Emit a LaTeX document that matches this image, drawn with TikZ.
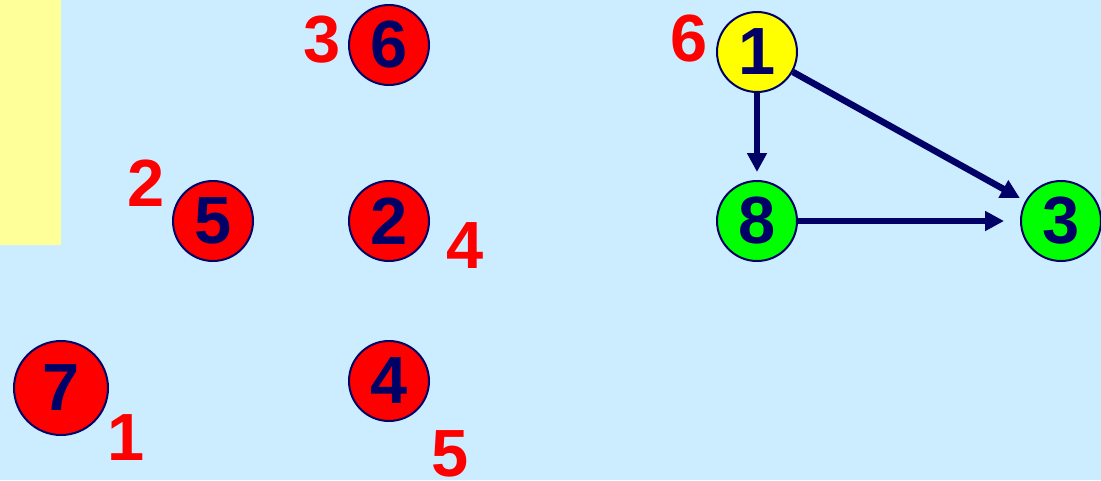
\documentclass[tikz,border=0pt]{standalone}
\usepackage{fontspec}
\setmainfont{Liberation Sans}
\definecolor{bgblue}{RGB}{204,236,255}
\definecolor{paleyel}{RGB}{255,255,153}
\definecolor{navy}{RGB}{0,0,102}
\definecolor{ptred}{RGB}{255,0,0}
\definecolor{ptgreen}{RGB}{0,255,0}
\definecolor{ptyellow}{RGB}{255,255,0}
\usetikzlibrary{arrows.meta,positioning}

\begin{document}
\begin{tikzpicture}[x=0.02cm, y=-0.02cm,
  vtx/.style={draw=navy, line width=0.04cm, circle, minimum size=1.6cm, inner sep=0pt, font=\fontsize{38}{40}\selectfont\bfseries, text=navy},
  num/.style={font=\fontsize{38}{40}\selectfont\bfseries, text=ptred, inner sep=0pt},
  edge/.style={navy, line width=0.13cm, -{Triangle[length=0.38cm,width=0.38cm]}}
]
  %% Background and side panel
  \fill[bgblue] (0,0) rectangle (1101,480);
  \useasboundingbox (0,0) rectangle (1101,480);
  \fill[paleyel] (0,0) rectangle (61,245);

  %% Left group of red vertices
  \node[vtx, fill=ptred] (v6) at (389,45) {6};
  \node[vtx, fill=ptred] (v5) at (213,221) {5};
  \node[vtx, fill=ptred] (v2) at (389,221) {2};
  \node[vtx, fill=ptred] (v4) at (389,381) {4};
  \node[vtx, fill=ptred, minimum size=1.88cm] (v7) at (61,388) {7};

  %% Red numbers next to them
  \node[num] (n6) at (322,40) {3};
  \node[num] (n5) at (146,183) {2};
  \node[num] (n2) at (465,246) {4};
  \node[num] (n7) at (126,438) {1};
  \node[num] (n4) at (450,454) {5};

  %% Right graph
  \node[vtx, fill=ptyellow] (v1) at (757,52) {1};
  \node[vtx, fill=ptgreen] (v8) at (757,221) {8};
  \node[vtx, fill=ptgreen] (v3) at (1061,221) {3};
  \node[num] (n1) at (689,39) {6};

  \draw[edge, shorten >=0.16cm] (v1) -- (v8);
  \draw[edge, shorten >=0.12cm] (v1) -- (v3);
  \draw[edge, shorten >=0.32cm] (v8) -- (v3);
\end{tikzpicture}
\end{document}
